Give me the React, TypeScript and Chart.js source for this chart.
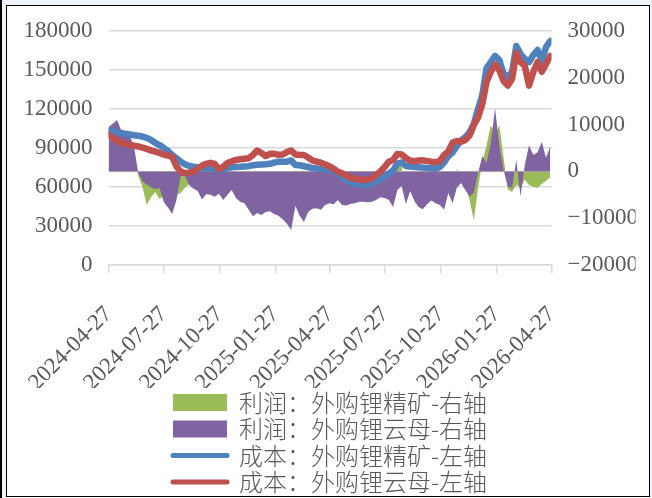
import React, { useEffect, useRef } from "react";
import { Chart, registerables } from "chart.js";

Chart.register(...registerables);

// Weekly observation grid: day offsets counted from 2024-04-27
const weekDays: number[] = Array.from({ length: 105 }, (_, i) => i * 7);

// Axis tick positions (days from 2024-04-27) and their labels
const tickDays = [0, 91, 183, 275, 365, 456, 548, 640, 730];
const tickLabels = [
  "2024-04-27",
  "2024-07-27",
  "2024-10-27",
  "2025-01-27",
  "2025-04-27",
  "2025-07-27",
  "2025-10-27",
  "2026-01-27",
  "2026-04-27",
];

const seriesNames = [
  "利润：外购锂精矿-右轴",
  "利润：外购锂云母-右轴",
  "成本：外购锂精矿-左轴",
  "成本：外购锂云母-左轴",
];

// 利润：外购锂精矿（右轴）
const profitSpodumene = [
  6500, 7000, 7500, 6000, 5600, 5200, 3500, -1000, -3300, -7200,
  -5500, -4400, -5900, -5300, -6000, -7000, -5000, -4600, -3500, -2700,
  -3000, -3500, -4800, -4000, -4200, -4500, -4000, -5000, -4200, -3300,
  -4600, -5400, -5600, -7000, -8200, -7600, -7800, -7300, -7100, -7600,
  -8000, -8600, -9500, -10600, -6200, -8000, -9200, -7300, -6800, -6700,
  -6900, -6100, -5700, -5900, -5100, -6000, -6100, -5800, -5700, -5400,
  -5400, -5500, -5300, -5000, -4500, -4600, -3000, -1500, 1400, 1200,
  -5500, -3200, -5200, -6300, -6800, -5800, -5100, -5600, -6000, -6900,
  -3700, -5600, 600, -2000, -3300, -6100, -10500, -3500, 2000, 5600,
  9900, 7800, 9900, 3000, -3800, -4400, -2900, -3500, -1800, -2900,
  -3300, -3500, -2700, -2000, -1200,
];

// 利润：外购锂云母（右轴）
const profitLepidolite = [
  9500, 10200, 11000, 8800, 8200, 7600, 5400, -300, -2100, -2800,
  -3400, -3800, -3500, -6500, -7700, -9100, -6100, -1000, -1000, -2900,
  -3700, -4200, -6000, -4900, -5000, -5400, -4800, -6100, -5000, -4000,
  -5700, -6500, -6800, -8200, -9600, -8900, -9300, -8700, -8500, -9100,
  -9500, -10200, -11200, -12500, -7400, -9500, -10800, -8700, -8000, -7900,
  -8200, -7200, -6800, -7000, -6100, -7200, -7300, -6900, -6800, -6500,
  -6500, -6600, -6500, -6100, -5500, -5700, -6100, -7600, -4000, -3100,
  -7000, -4200, -6300, -7600, -8100, -7000, -6200, -6800, -7200, -8200,
  -4600, -6800, -3500, -2500, -4000, -5300, -4600, -300, 3300, 1800,
  6100, 13500, 5600, 300, -3300, -3500, 2500, -5300, 1400, 5600,
  3500, 4100, 6300, 2900, 5400,
];

// 成本：外购锂精矿（左轴）
const costSpodumene = [
  103000, 102700, 101900, 101500, 100900, 100400, 99800, 99400, 98800, 97800,
  96200, 94000, 92300, 90000, 87700, 84600, 82000, 79500, 77500, 76200,
  75600, 75000, 74200, 74200, 74400, 74000, 72800, 73800, 74600, 75200,
  75400, 75500, 75800, 76000, 76800, 77100, 77300, 77500, 77800, 78800,
  79500, 79500, 79500, 80400, 76900, 76700, 76000, 75400, 74600, 74200,
  73800, 73500, 73100, 72700, 70600, 67500, 65400, 63200, 62500, 61900,
  61500, 61900, 62800, 64200, 66200, 68100, 70400, 72700, 78200, 78800,
  76200, 75800, 75400, 75200, 74900, 74600, 74400, 74000, 75400, 78800,
  83800, 86500, 91500, 95800, 98500, 101900, 108500, 120000, 130800, 151500,
  156100, 160800, 157700, 146900, 144600, 148500, 168500, 162300, 158500, 156100,
  161500, 165400, 156900, 167700, 172300,
];

// 成本：外购锂云母（左轴）
const costLepidolite = [
  100000, 98100, 95400, 94000, 93200, 92500, 91800, 91200, 90300, 89300,
  88200, 87200, 86200, 85000, 84100, 83100, 75800, 71900, 70800, 71000,
  71900, 74200, 76500, 77800, 78600, 77700, 73800, 75400, 78500, 79800,
  80800, 81300, 81700, 82100, 84600, 88100, 86200, 83800, 85500, 85500,
  84800, 85000, 86900, 88100, 85000, 84600, 84600, 82700, 80500, 79600,
  78700, 77300, 75900, 74000, 71800, 70500, 68800, 67100, 66300, 65800,
  65400, 65800, 66700, 69200, 71900, 75400, 79500, 80800, 85400, 85000,
  82300, 80400, 79800, 80400, 80500, 80000, 79500, 79100, 80000, 84600,
  87300, 94200, 95400, 94800, 96200, 99600, 107700, 113500, 123800, 140800,
  148500, 154200, 150000, 141500, 138000, 143100, 163100, 156100, 153100, 138000,
  148500, 156100, 148700, 154600, 160800,
];

const GREEN = "#9BBB59";
const PURPLE = "#8064A2";
const BLUE = "#4F81BD";
const RED = "#C0504D";
const GRID = "#D9D9D9";
const TEXT = "#595959";
const NUM_FONT = { family: "'Liberation Serif', 'DejaVu Serif', serif", size: 23 };
const CJK_FONT = { family: "'Noto Sans CJK SC', 'Noto Sans', sans-serif", size: 24, weight: "300" };

export default function App() {
  const ref = useRef<HTMLCanvasElement>(null);

  useEffect(() => {
    const toXY = (vals: number[]) => vals.map((v, i) => ({ x: weekDays[i], y: v }));
    const colors = [GREEN, PURPLE, BLUE, RED];
    const chart = new Chart(ref.current as HTMLCanvasElement, {
      type: "line",
      data: {
        datasets: [
          {
            label: seriesNames[0],
            data: toXY(profitSpodumene),
            yAxisID: "y1",
            backgroundColor: GREEN,
            borderColor: "rgba(0,0,0,0)",
            borderWidth: 0,
            fill: "origin",
            pointRadius: 0,
            tension: 0,
            order: 4,
          },
          {
            label: seriesNames[1],
            data: toXY(profitLepidolite),
            yAxisID: "y1",
            backgroundColor: PURPLE,
            borderColor: "rgba(0,0,0,0)",
            borderWidth: 0,
            fill: "origin",
            pointRadius: 0,
            tension: 0,
            order: 3,
          },
          {
            label: seriesNames[2],
            data: toXY(costSpodumene),
            yAxisID: "y",
            borderColor: BLUE,
            backgroundColor: BLUE,
            borderWidth: 6.5,
            borderJoinStyle: "round",
            borderCapStyle: "round",
            fill: false,
            pointRadius: 0,
            tension: 0,
            order: 2,
          },
          {
            label: seriesNames[3],
            data: toXY(costLepidolite),
            yAxisID: "y",
            borderColor: RED,
            backgroundColor: RED,
            borderWidth: 6.5,
            borderJoinStyle: "round",
            borderCapStyle: "round",
            fill: false,
            pointRadius: 0,
            tension: 0,
            order: 1,
          },
        ],
      },
      options: {
        responsive: false,
        animation: false,
        layout: { padding: { left: 23.5, right: 16.5, top: 31, bottom: 0 } },
        plugins: {
          tooltip: { enabled: false },
          legend: {
            position: "bottom",
            fullSize: false,
            labels: {
              usePointStyle: true,
              pointStyleWidth: 54,
              boxHeight: 17,
              padding: 2.5,
              color: TEXT,
              font: CJK_FONT,
              generateLabels: (c: any) =>
                c.data.datasets.map((ds: any, i: number) => ({
                  text: ds.label,
                  fillStyle: colors[i],
                  strokeStyle: colors[i],
                  lineWidth: i < 2 ? 0 : 5,
                  lineCap: "round",
                  pointStyle: i < 2 ? "rect" : "line",
                  hidden: false,
                  datasetIndex: i,
                  fontColor: TEXT,
                })),
            },
          },
        },
        scales: {
          x: {
            type: "linear",
            min: 0,
            max: 730,
            afterBuildTicks: (axis: any) => {
              axis.ticks = tickDays.map((v) => ({ value: v }));
            },
            afterFit: (scale: any) => {
              scale.height = 123;
            },
            ticks: {
              autoSkip: false,
              minRotation: 45,
              maxRotation: 45,
              padding: 28,
              color: TEXT,
              font: NUM_FONT,
              callback: (v: any) => {
                const k = tickDays.indexOf(Number(v));
                return k >= 0 ? tickLabels[k] : "";
              },
            },
            grid: {
              display: true,
              drawOnChartArea: false,
              drawTicks: true,
              tickLength: 8,
              color: GRID,
              lineWidth: 1.5,
            },
            border: { display: true, color: GRID, width: 1.5 },
          },
          y: {
            position: "left",
            min: 0,
            max: 180000,
            afterFit: (scale: any) => {
              scale.width = 85;
            },
            ticks: {
              stepSize: 30000,
              padding: 16,
              color: TEXT,
              font: NUM_FONT,
              callback: (v: any) => String(v),
            },
            grid: { color: GRID, lineWidth: 1.5, drawTicks: false },
            border: { display: false },
          },
          y1: {
            position: "right",
            min: -20000,
            max: 30000,
            afterFit: (scale: any) => {
              scale.width = 84;
            },
            ticks: {
              stepSize: 10000,
              padding: 16,
              color: TEXT,
              font: NUM_FONT,
              callback: (v: any) => (Number(v) < 0 ? "\u2212" + Math.abs(Number(v)) : String(v)),
            },
            grid: { display: false, drawTicks: false },
            border: { display: false },
          },
        },
      },
    } as any);
    return () => chart.destroy();
  }, []);

  return (
    <div
      style={{
        position: "fixed",
        left: 0,
        top: 0,
        width: 652,
        height: 498,
        overflow: "hidden",
        background: "#f1f4f8",
      }}
    >
      <div style={{ position: "absolute", left: 0, top: 0, width: 2, height: 498, background: "#000" }} />
      <div
        style={{
          position: "absolute",
          left: 6,
          top: 5,
          width: 644,
          height: 493,
          background: "#fff",
        }}
      />
      <canvas
        ref={ref}
        width={652}
        height={504}
        style={{ position: "absolute", left: 0, top: 0, width: 652, height: 504 }}
      />
      <div
        style={{
          position: "absolute",
          left: 6,
          top: 5,
          width: 644,
          height: 492,
          border: "1.5px solid #000",
          boxSizing: "border-box",
          pointerEvents: "none",
        }}
      />
    </div>
  );
}
